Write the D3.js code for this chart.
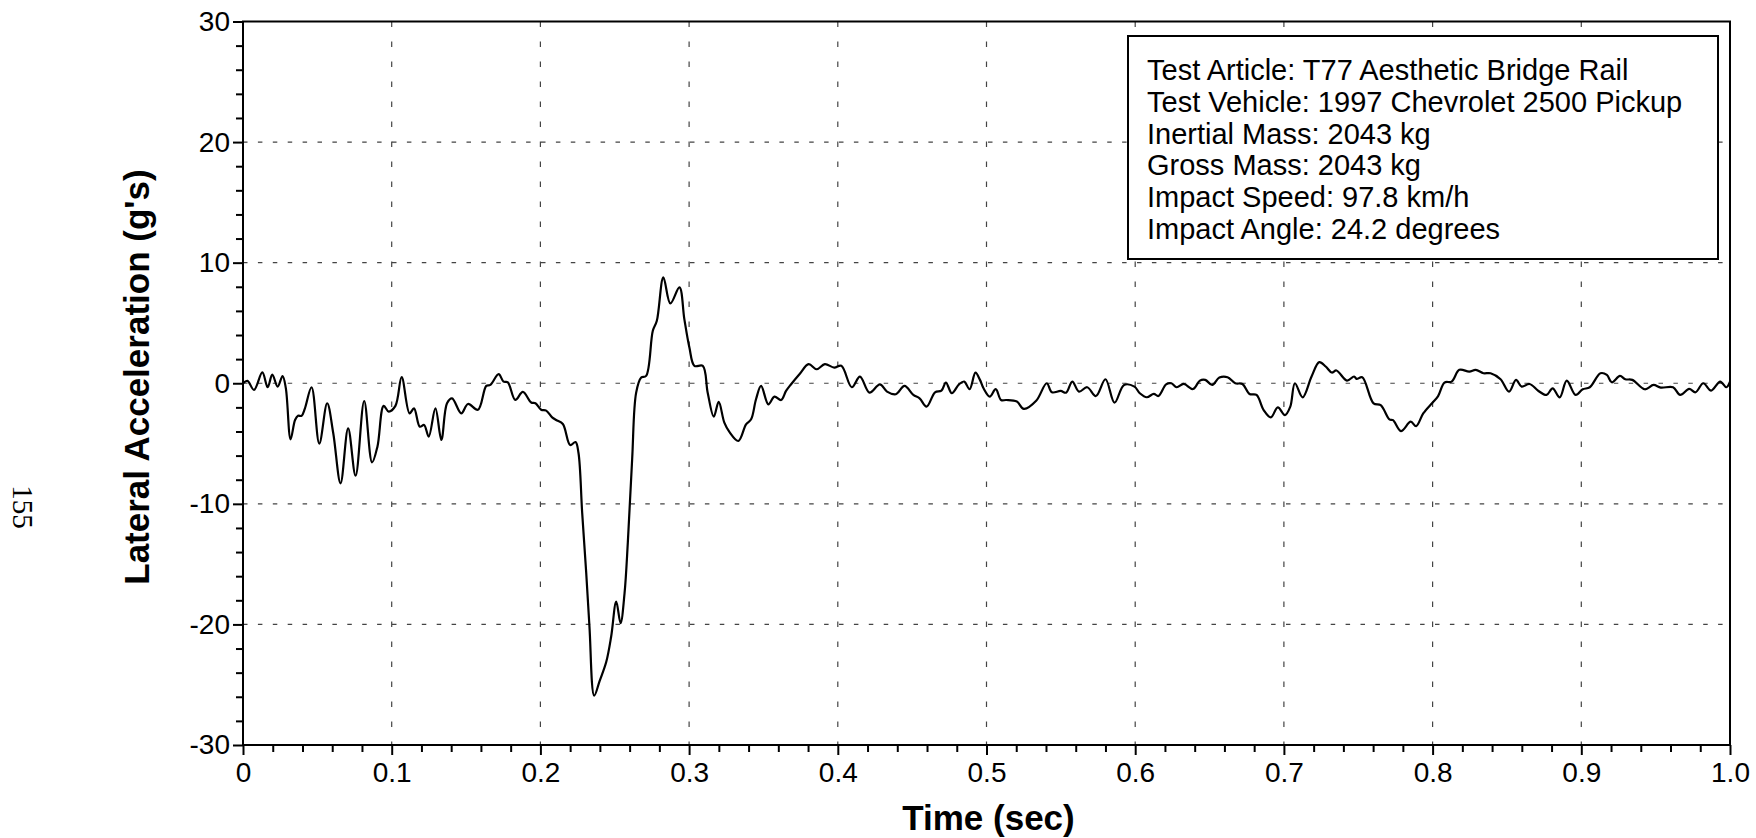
<!DOCTYPE html>
<html><head><meta charset="utf-8">
<script src="https://cdn.jsdelivr.net/npm/d3@7"></script>
<style>body{margin:0;background:#fff}svg{display:block}</style>
</head><body><svg id="c" width="1756" height="838"></svg>
<script>
const timeSec = [0,0.003,0.0074,0.013,0.0166,0.0197,0.0233,0.0266,0.0288,0.032,0.035,0.037,0.0394,0.0416,0.0461,0.0513,0.0566,0.0607,0.0656,0.0707,0.0757,0.0815,0.0868,0.0904,0.0946,0.098,0.1025,0.1067,0.112,0.115,0.1189,0.1218,0.1249,0.1294,0.1334,0.1372,0.1406,0.1468,0.1513,0.158,0.1636,0.1663,0.1719,0.1752,0.1781,0.1831,0.1882,0.1938,0.1967,0.2005,0.2039,0.2079,0.2106,0.2151,0.22,0.2236,0.2256,0.2281,0.2308,0.233,0.2362,0.2398,0.2443,0.2476,0.251,0.2539,0.2566,0.2588,0.2617,0.2644,0.2678,0.2711,0.2756,0.2783,0.2827,0.2874,0.2935,0.2968,0.3002,0.3036,0.3092,0.3125,0.3166,0.3199,0.3237,0.3271,0.3331,0.3383,0.3417,0.345,0.3484,0.3533,0.3574,0.3619,0.3652,0.3686,0.3742,0.3804,0.3858,0.3913,0.3976,0.4024,0.4094,0.4149,0.4213,0.4283,0.4331,0.439,0.4449,0.4508,0.455,0.4597,0.4654,0.4697,0.4727,0.4767,0.4815,0.485,0.4886,0.4926,0.4956,0.498,0.5022,0.5062,0.5098,0.5133,0.5204,0.5251,0.5334,0.5405,0.544,0.5499,0.5535,0.5577,0.5622,0.5677,0.5736,0.58,0.5861,0.5925,0.5995,0.6031,0.6078,0.6125,0.6156,0.6208,0.6243,0.6279,0.6326,0.6389,0.6435,0.6471,0.6518,0.6566,0.6621,0.6673,0.6721,0.6769,0.6816,0.6864,0.6912,0.6959,0.7007,0.7043,0.7074,0.7126,0.7186,0.7238,0.7281,0.7322,0.7353,0.7424,0.7472,0.7489,0.7527,0.7603,0.7651,0.771,0.7734,0.7787,0.7853,0.7889,0.7937,0.7999,0.8037,0.808,0.8128,0.818,0.8247,0.829,0.8342,0.839,0.8457,0.8514,0.8561,0.8599,0.8652,0.8712,0.8766,0.8807,0.8855,0.8902,0.8962,0.901,0.9057,0.9129,0.9172,0.9205,0.926,0.9296,0.9343,0.9427,0.9486,0.9534,0.9617,0.9665,0.9725,0.9768,0.982,0.9873,0.9934,0.9975,1.0];
const lateralAccel = [0,0.2,-0.55,0.9,-0.33,0.72,-0.28,0.6,-0.4,-4.65,-3.05,-2.7,-2.7,-2.1,-0.33,-5.0,-1.66,-4.15,-8.3,-3.74,-7.67,-1.47,-6.56,-5.26,-1.88,-2.35,-1.88,0.5,-2.5,-2.08,-3.6,-3.46,-4.43,-2.08,-4.7,-1.66,-1.25,-2.5,-1.72,-2.2,-0.22,-0.14,0.75,0.14,0.08,-1.38,-0.72,-1.6,-1.66,-2.2,-2.27,-2.83,-3.05,-3.38,-5.12,-4.88,-5.76,-10.75,-15.7,-20.2,-25.9,-24.7,-23.1,-21.0,-18.1,-19.9,-17.4,-13.2,-6.3,-0.78,0.47,0.61,4.35,5.18,8.78,6.62,7.95,5.32,2.96,1.44,1.44,-0.78,-2.77,-1.55,-3.27,-4.04,-4.79,-3.41,-2.99,-1.33,-0.22,-1.75,-1.11,-1.39,-0.64,-0.08,0.75,1.58,1.16,1.58,1.3,1.45,-0.33,0.55,-0.78,-0.09,-0.69,-0.91,-0.22,-0.97,-1.25,-1.94,-0.75,-0.61,0.06,-0.83,-0.09,0.14,-0.49,0.88,0.28,-0.42,-1.11,-0.49,-1.39,-1.39,-1.52,-2.13,-1.46,0,-0.75,-0.64,-0.78,0.14,-0.69,-0.33,-1.06,0.33,-1.61,-0.14,-0.28,-0.83,-1.16,-0.88,-1.06,-0.09,0,-0.33,-0.06,-0.48,0.22,0.28,-0.14,0.47,0.5,0,-0.06,-0.89,-0.97,-2.22,-2.83,-2.0,-2.64,-1.94,0,-1.17,0.56,1.75,1.39,0.89,1.06,0.22,0.56,0.36,0.5,-1.67,-1.81,-3.0,-3.06,-3.97,-3.19,-3.56,-2.5,-1.61,-1.06,0.06,0.14,1.11,0.97,1.11,0.83,0.83,0.33,-0.69,0.28,-0.28,-0.06,-0.64,-0.97,-0.42,-1.17,0.22,-0.97,-0.5,-0.33,0.83,0.69,0.08,0.61,0.33,0.28,-0.5,-0.14,-0.36,-0.33,-0.97,-0.47,-0.75,0,-0.61,0.14,-0.33,0.14];
const xTickValues = [0,0.1,0.2,0.3,0.4,0.5,0.6,0.7,0.8,0.9,1.0];
const xTickLabels = ["0","0.1","0.2","0.3","0.4","0.5","0.6","0.7","0.8","0.9","1.0"];
const xMinorTicks = [0.02,0.04,0.06,0.08,0.12,0.14,0.16,0.18,0.22,0.24,0.26,0.28,0.32,0.34,0.36,0.38,0.42,0.44,0.46,0.48,0.52,0.54,0.56,0.58,0.62,0.64,0.66,0.68,0.72,0.74,0.76,0.78,0.82,0.84,0.86,0.88,0.92,0.94,0.96,0.98];
const yTickValues = [-30,-20,-10,0,10,20,30];
const yTickLabels = ["-30","-20","-10","0","10","20","30"];
const yMinorTicks = [-28,-26,-24,-22,-18,-16,-14,-12,-8,-6,-4,-2,2,4,6,8,12,14,16,18,22,24,26,28];
const legendLines = ["Test Article: T77 Aesthetic Bridge Rail","Test Vehicle: 1997 Chevrolet 2500 Pickup","Inertial Mass: 2043 kg","Gross Mass: 2043 kg","Impact Speed: 97.8 km/h","Impact Angle: 24.2 degrees"];
const xTitle = "Time (sec)";
const yTitle = "Lateral Acceleration (g's)";
const pageNumber = "155";

const svg = d3.select("#c");
const L = 243, R = 1730, T = 21.5, B = 745;
const x = d3.scaleLinear().domain([0,1]).range([L,R]);
const y = d3.scaleLinear().domain([-30,30]).range([B,T]);
const font = "'Liberation Sans', Arial, Helvetica, sans-serif";

svg.append("rect").attr("width",1756).attr("height",838).attr("fill","#fff");

// grid
const g = svg.append("g");
g.selectAll("line.hg").data(yTickValues.filter(d=>d>-30&&d<30)).join("line")
  .attr("x1",L).attr("x2",R).attr("y1",d=>y(d)).attr("y2",d=>y(d))
  .attr("stroke","#444").attr("stroke-width",1.2).attr("stroke-dasharray","4.5,10.4");
g.selectAll("line.vg").data(xTickValues.filter(d=>d>0&&d<1)).join("line")
  .attr("x1",d=>x(d)).attr("x2",d=>x(d)).attr("y1",T).attr("y2",B)
  .attr("stroke","#444").attr("stroke-width",1.2).attr("stroke-dasharray","5.5,14.5");

// axes
const xAxis = d3.axisBottom(x).tickValues(xTickValues).tickSize(10).tickSizeOuter(0).tickPadding(7)
  .tickFormat((d,i)=>xTickLabels[i]);
const xMinor = d3.axisBottom(x).tickValues(xMinorTicks).tickSize(7).tickSizeOuter(0).tickFormat("");
const yAxis = d3.axisLeft(y).tickValues(yTickValues).tickSize(10).tickSizeOuter(0).tickPadding(3)
  .tickFormat((d,i)=>yTickLabels[i]);
const yMinor = d3.axisLeft(y).tickValues(yMinorTicks).tickSize(7).tickSizeOuter(0).tickFormat("");

function styleAxis(sel){
  sel.select(".domain").remove();
  sel.selectAll("line").attr("stroke","#000").attr("stroke-width",2);
  sel.selectAll("text").attr("fill","#000").style("font-family",font).style("font-size","28px");
}
svg.append("g").attr("transform",`translate(0,${B})`).call(xMinor).call(styleAxis);
svg.append("g").attr("transform",`translate(0,${B})`).call(xAxis).call(styleAxis);
svg.append("g").attr("transform",`translate(${L},0)`).call(yMinor).call(styleAxis);
svg.append("g").attr("transform",`translate(${L},0)`).call(yAxis).call(styleAxis);

// data line
const line = d3.line().x((d,i)=>x(timeSec[i])).y(d=>y(d)).curve(d3.curveCatmullRom.alpha(0.5));
svg.append("path").attr("d",line(lateralAccel)).attr("fill","none")
  .attr("stroke","#000").attr("stroke-width",2.2).attr("stroke-linejoin","round");

// frame
svg.append("rect").attr("x",L).attr("y",T).attr("width",R-L).attr("height",B-T)
  .attr("fill","none").attr("stroke","#000").attr("stroke-width",2);

// legend
const lg = svg.append("g");
lg.append("rect").attr("x",1128).attr("y",36).attr("width",590).attr("height",223)
  .attr("fill","#fff").attr("stroke","#000").attr("stroke-width",2);
lg.selectAll("text").data(legendLines).join("text")
  .attr("x",1147).attr("y",(d,i)=>80+i*31.8)
  .style("font-family",font).style("font-size","29px").attr("fill","#000").text(d=>d);

// titles
svg.append("text").attr("x",(L+R)/2+2).attr("y",830).attr("text-anchor","middle")
  .style("font-family",font).style("font-size","35px").style("font-weight","bold").text(xTitle);
svg.append("text").attr("transform","translate(149,377) rotate(-90)").attr("text-anchor","middle")
  .style("font-family",font).style("font-size","35px").style("font-weight","bold").text(yTitle);
svg.append("text").attr("transform","translate(13,507) rotate(90)").attr("text-anchor","middle")
  .style("font-family","'Liberation Serif', 'Times New Roman', serif").style("font-size","29px").text(pageNumber);
</script></body></html>
